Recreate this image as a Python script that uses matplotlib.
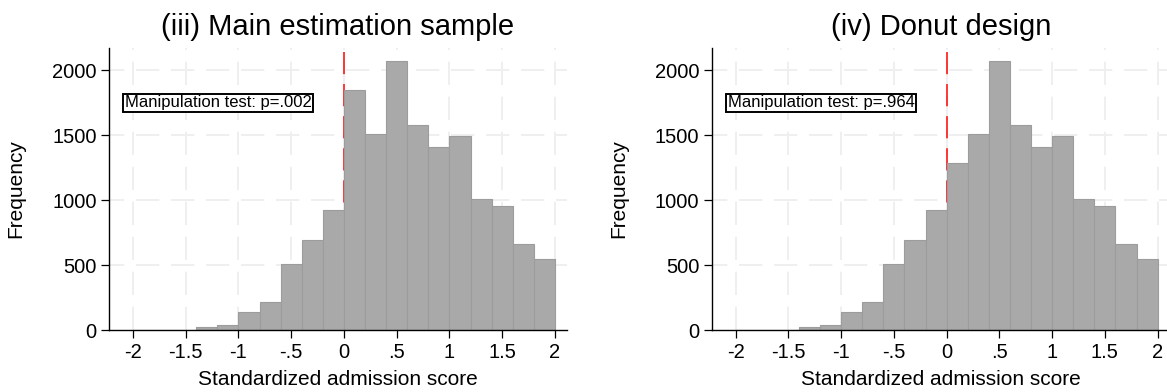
"""Histograms of the standardized admission score around the cutoff."""

import matplotlib

matplotlib.use("Agg")
import matplotlib.pyplot as plt
import numpy as np

plt.rcParams["font.family"] = ["Liberation Sans", "DejaVu Sans"]

# ---- Data ----
bin_edges = np.round(np.arange(-2.0, 2.0001, 0.2), 1)

# counts per 0.2-wide bin, from -2.0 up to 2.0
main_counts = [1, 2, 3, 23, 38, 138, 215, 510, 692, 923,
               1846, 1508, 2069, 1577, 1408, 1492, 1008, 956, 662, 546]
donut_counts = [1, 2, 3, 23, 38, 138, 215, 510, 692, 923,
                1285, 1508, 2069, 1577, 1408, 1492, 1008, 956, 662, 546]

panel_titles = ["(iii) Main estimation sample", "(iv) Donut design"]
test_labels = ["Manipulation test: p=.002", "Manipulation test: p=.964"]

x_ticks = [-2, -1.5, -1, -0.5, 0, 0.5, 1, 1.5, 2]
x_tick_labels = ["-2", "-1.5", "-1", "-.5", "0", ".5", "1", "1.5", "2"]
y_ticks = [0, 500, 1000, 1500, 2000]
cutoff = 0.0

BAR_COLOR = "#a9a9a9"
BAR_EDGE = "#9c9c9c"
GRID_COLOR = "#efefef"

W, H = 1167, 392
fig = plt.figure(figsize=(W / 100, H / 100), dpi=100)

ax_w = 458 / W
ax_h = 282 / H
ax_b = 1 - 330 / H
panels = [
    (109 / W, main_counts),
    (711.7 / W, donut_counts),
]

for (ax_l, counts), title, label in zip(panels, panel_titles, test_labels):
    ax = fig.add_axes([ax_l, ax_b, ax_w, ax_h])

    # dashed grid at every tick
    for xv in x_ticks:
        ax.plot([xv, xv], [0, 2170], color=GRID_COLOR, lw=1.4,
                ls=(0, (12, 6)), zorder=0.5)
    for yv in y_ticks[1:]:
        ax.plot([-2.3, 2.2], [yv, yv], color=GRID_COLOR, lw=1.4,
                ls=(0, (12, 6)), zorder=0.5)

    # cutoff line sits behind the bars
    ax.plot([cutoff, cutoff], [2140, 0], color="red", lw=1.1,
            ls=(0, (14.5, 6.5)), zorder=1)

    ax.bar(bin_edges[:-1], counts, width=0.2, align="edge",
           color=BAR_COLOR, edgecolor=BAR_EDGE, linewidth=0.8, zorder=2)

    ax.set_xlim(-2.227, 2.114)
    ax.set_ylim(0, 2170)

    ax.set_xticks(x_ticks)
    ax.set_xticklabels(x_tick_labels)
    ax.set_yticks(y_ticks)
    ax.tick_params(direction="out", length=6, width=0.9, labelsize=14.5,
                   colors="black", pad=3)

    for side in ("top", "right"):
        ax.spines[side].set_visible(False)
    for side in ("left", "bottom"):
        ax.spines[side].set_linewidth(1.0)
        ax.spines[side].set_color("black")

    ax.set_title(title, fontsize=21, pad=9.4)
    ax.set_xlabel("Standardized admission score", fontsize=15)
    ax.set_ylabel("Frequency", fontsize=15)
    ax.xaxis.set_label_coords(0.5, -0.143)
    ax.yaxis.set_label_coords(-0.183, 0.5)

    ax.text(-2.107 + 0.03, 1747, label, fontsize=12, ha="left", va="center",
            zorder=5,
            bbox=dict(boxstyle="square,pad=0.08", facecolor="white",
                      edgecolor="black", linewidth=1.4))

fig.savefig("out.png", dpi=100)
